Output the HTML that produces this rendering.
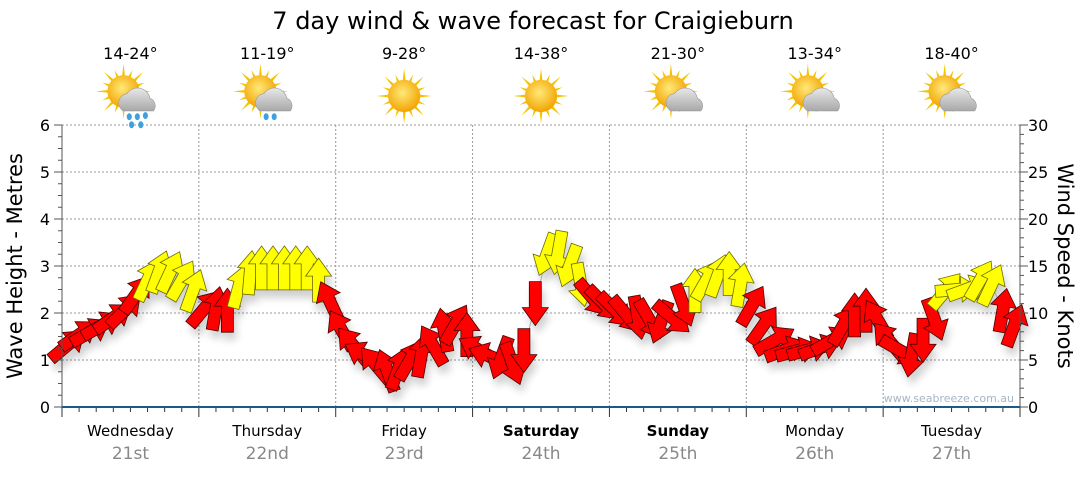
<!DOCTYPE html>
<html><head><meta charset="utf-8"><style>
body{margin:0;background:#fff;font-family:"Liberation Sans","DejaVu Sans",sans-serif;}
svg text{font-family:"DejaVu Sans","Liberation Sans",sans-serif;}
</style></head><body>
<svg id="chart" width="1080" height="475" viewBox="0 0 1080 475" xmlns="http://www.w3.org/2000/svg">
<defs>
<filter id="sh" x="-50%" y="-50%" width="200%" height="200%"><feGaussianBlur stdDeviation="4"/></filter>
<radialGradient id="sun" cx="45%" cy="40%" r="60%"><stop offset="0" stop-color="#ffe97a"/><stop offset="1" stop-color="#f2a400"/></radialGradient>
<linearGradient id="cloud" x1="0" y1="0" x2="0" y2="1"><stop offset="0" stop-color="#e8e8e8"/><stop offset="1" stop-color="#a8a8a8"/></linearGradient>
</defs>
<text x="533" y="29" font-size="24" text-anchor="middle" fill="#000">7 day wind &amp; wave forecast for Craigieburn</text>
<g id="grid"></g>
<g id="shadow" filter="url(#sh)" opacity="0.18"></g>
<g id="arrows"></g>
<g id="axes"></g>
<g id="header"></g>
<text transform="translate(22,266) rotate(-90)" font-size="21" text-anchor="middle">Wave Height - Metres</text>
<text transform="translate(1058,266) rotate(90)" font-size="21" text-anchor="middle">Wind Speed - Knots</text>
<text x="1014" y="402" font-size="11" text-anchor="end" fill="#a9b4c4">www.seabreeze.com.au</text>
</svg>
<script>
const days=["Wednesday","Thursday","Friday","Saturday","Sunday","Monday","Tuesday"];
const dates=["21st","22nd","23rd","24th","25th","26th","27th"];
const temps=["14-24°","11-19°","9-28°","14-38°","21-30°","13-34°","18-40°"];
const icons=["rain","rain","sun","sun","cloud","cloud","cloud"];
const boldDays=[false,false,false,true,true,false,false];
const waveTicks=[0,1,2,3,4,5,6];
const windTicks=[0,5,10,15,20,25,30];
const windSpeed=[6.6,7.7,8,8.7,9.5,10.3,12,13.5,14.4,14.4,13.5,12.4,
10.5,10.5,10.3,12.8,14.3,14.8,14.8,14.8,14.8,14.8,13.5,11.2,
8.2,6.6,5.5,4.5,3.9,4.1,5,5.5,6.6,8.2,8.8,7.7,
6.1,5.4,5.2,4.6,6,11,16.2,16.4,15,13,11.6,11,
10.3,9.8,9.5,9.3,9,9.5,10.8,12.4,13.5,14,14.2,13,
10.8,8.7,7.1,6.1,6,6.1,6.3,7.1,8.7,9.8,10.3,9.3,
7.1,6,5.5,7.1,9.3,12.4,12.5,12.6,13.5,13,10.3,8.7];
const windDir=[50,55,60,60,55,45,35,25,20,25,30,20,
40,10,0,15,5,0,0,0,0,0,0,335,
330,320,300,320,340,20,30,10,330,350,30,0,
300,290,200,160,180,180,200,190,200,170,140,135,
135,140,170,150,200,130,160,0,30,20,0,10,
30,35,60,70,75,75,70,60,30,0,0,330,
320,120,190,180,160,40,85,70,30,25,10,20];
const X0=62,X1=1020,Y0=407,Y1=125,NS="http://www.w3.org/2000/svg";
const dayW=(X1-X0)/7;
const xPos=i=>X0+(i+0.5)*(X1-X0)/windSpeed.length;
const yWave=v=>Y0-(v/6)*(Y0-Y1);
const yWind=v=>Y0-(v/30)*(Y0-Y1);
function mk(tag,attrs,parent){const e=document.createElementNS(NS,tag);for(const k in attrs)e.setAttribute(k,attrs[k]);parent.appendChild(e);return e;}
const grid=document.getElementById('grid'),axes=document.getElementById('axes'),hdr=document.getElementById('header');
waveTicks.forEach(v=>{if(v>0){const l=mk('line',{x1:X0,x2:X1,y1:yWave(v),y2:yWave(v),stroke:'#999','stroke-dasharray':'2,2','stroke-width':1},grid);

}
const t=mk('text',{x:50,y:yWave(v)+6,'font-size':16,'text-anchor':'end',fill:'#000'},axes);t.textContent=v;

});
windTicks.forEach(v=>{const t=mk('text',{x:1028,y:yWind(v)+6,'font-size':16,fill:'#000'},axes);t.textContent=v;

});
for(let m=0;m<=24;m++){const y=Y0-m*(Y0-Y1)/24;mk('line',{x1:m%4?X0-4:X0-8,x2:X0,y1:y,y2:y,stroke:'#555'},axes);}
for(let k=0;k<=30;k++){const y=yWind(k);mk('line',{x1:X1,x2:X1+(k%5?4:8),y1:y,y2:y,stroke:'#555'},axes);}
mk('line',{x1:X0,x2:X0,y1:Y1,y2:Y0,stroke:'#555'},axes);
mk('line',{x1:X1,x2:X1,y1:Y1,y2:Y0,stroke:'#555'},axes);
for(let d=1;d<7;d++){const x=X0+d*dayW;const l=mk('line',{x1:x,x2:x,y1:Y1,y2:Y0,stroke:'#999','stroke-dasharray':'2,2'},grid);

}
for(let k=0;k<=56;k++){const x=X0+k*dayW/8;mk('line',{x1:x,x2:x,y1:Y0,y2:Y0+(k%8?5:10),stroke:'#333'},axes);}
mk('line',{x1:X0,x2:X1,y1:Y0,y2:Y0,stroke:'#1a5a8a','stroke-width':2},axes);
days.forEach((d,i)=>{const cx=X0+(i+0.5)*dayW;
const t=mk('text',{x:cx,y:436,'font-size':15,'text-anchor':'middle','font-weight':boldDays[i]?'bold':'normal'},axes);t.textContent=d;


const t2=mk('text',{x:cx,y:459,'font-size':17,'text-anchor':'middle',fill:'#888'},axes);t2.textContent=dates[i];


const t3=mk('text',{x:cx,y:59,'font-size':16,'text-anchor':'middle'},hdr);t3.textContent=temps[i];


const g=mk('g',{transform:`translate(${cx},96) scale(1.15)`},hdr);


const sx=icons[i]=='sun'?0:-6,sy=icons[i]=='sun'?0:-4;
for(let r=0;r<16;r++){const a=r*Math.PI/8;mk('polygon',{points:`${sx+Math.cos(a-0.12)*12},${sy+Math.sin(a-0.12)*12} ${sx+Math.cos(a)*(r%2?20:24)},${sy+Math.sin(a)*(r%2?20:24)} ${sx+Math.cos(a+0.12)*12},${sy+Math.sin(a+0.12)*12}`,fill:'#f5c400'},g);}
mk('circle',{cx:sx,cy:sy,r:14,fill:'url(#sun)'},g);
if(icons[i]!='sun'){mk('path',{d:'M-6,13 a8,8 0 0 1 3,-15 a11,11 0 0 1 20,4 a7,7 0 0 1 3,11 z',fill:'url(#cloud)',stroke:'#999','stroke-width':0.5},g);}
if(icons[i]=='rain'){[[-1,18],[6,18],[13,17],[1,25],[9,25]].slice(0,i==0?5:2).forEach(p=>mk('ellipse',{cx:p[0],cy:p[1],rx:2.2,ry:3,fill:'#3da0e0'},g));}
});
const arrows=document.getElementById('arrows'),sh=document.getElementById('shadow');
const ap="M-6,22 L-6,-4 L-13,-4 L0,-22 L13,-4 L6,-4 L6,22 Z";
let pts=windSpeed.map((s,i)=>`${xPos(i)},${yWind(s)}`).join(' ');
const pl=mk('polyline',{points:pts,fill:'none',stroke:'#aaa','stroke-width':1},arrows);


windSpeed.forEach((s,i)=>{const x=xPos(i),y=yWind(s);
mk('path',{d:ap,transform:`translate(${x+3},${y+8}) rotate(${windDir[i]})`,fill:'#000'},sh);
const a=mk('path',{d:ap,transform:`translate(${x},${y}) rotate(${windDir[i]})`,fill:s>=12.3?'#ffff00':'#ff0000',stroke:s>=12.3?'#6b6b00':'#4a0000','stroke-width':0.8},arrows);

});
</script>
</body></html>
